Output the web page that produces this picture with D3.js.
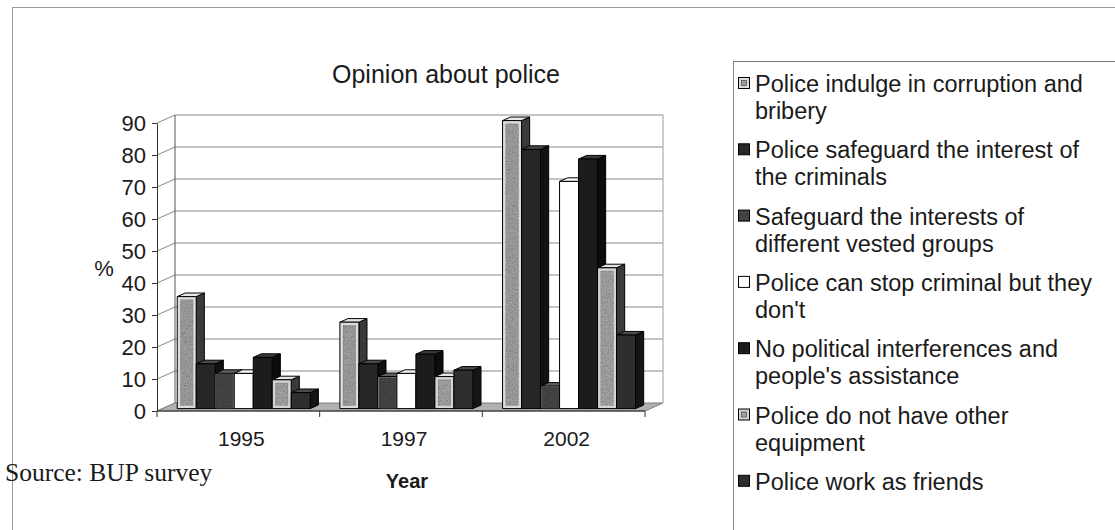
<!DOCTYPE html>
<html>
<head>
<meta charset="utf-8">
<script src="https://cdn.jsdelivr.net/npm/d3@7"></script>
<style>
  body { margin: 0; background: #fff; }
  text { font-family: "Liberation Sans", Arial, sans-serif; fill: #1a1a1a; }
</style>
</head>
<body>
<svg id="chart" width="1115" height="530"></svg>
<script>
// ---- data ----
const years = ["1995", "1997", "2002"];
const seriesLabels = [
  ["Police indulge in corruption and", "bribery"],
  ["Police safeguard the interest of", "the criminals"],
  ["Safeguard the interests of", "different vested groups"],
  ["Police can stop criminal but they", "don't"],
  ["No political interferences and", "people's assistance"],
  ["Police do not have other", "equipment"],
  ["Police work as friends"]
];
const corruption         = [35, 27, 90];
const protectCriminals   = [14, 14, 81];
const vestedGroups       = [11, 10, 7];
const canStopButDont     = [11, 11, 71];
const noInterference     = [16, 17, 78];
const noEquipment        = [9, 10, 44];
const workAsFriends      = [5, 12, 23];
const seriesValues = [corruption, protectCriminals, vestedGroups, canStopButDont,
                      noInterference, noEquipment, workAsFriends];
const yTicks = [0, 10, 20, 30, 40, 50, 60, 70, 80, 90];

// ---- styles per series: front, inner (textured), top, side ----
const styles = [
  { front: "#dcdcdc", inner: "#9c9c9c", top: "#e8e8e8", side: "#3a3a3a" },
  { front: "#262626", inner: null,      top: "#4a4a4a", side: "#121212" },
  { front: "#444444", inner: "#444444", top: "#606060", side: "#1c1c1c" },
  { front: "#ffffff", inner: null,      top: "#f6f6f6", side: "#ececec" },
  { front: "#1c1c1c", inner: null,      top: "#3a3a3a", side: "#0c0c0c" },
  { front: "#d4d4d4", inner: "#a0a0a0", top: "#e4e4e4", side: "#3a3a3a" },
  { front: "#2e2e2e", inner: null,      top: "#4c4c4c", side: "#151515" }
];

const svg = d3.select("#chart");
const defs = svg.append("defs");
const grain = defs.append("filter").attr("id", "grain")
  .attr("x", 0).attr("y", 0).attr("width", 1).attr("height", 1);
grain.append("feTurbulence").attr("type", "fractalNoise")
  .attr("baseFrequency", 0.75).attr("numOctaves", 2).attr("seed", 4).attr("result", "n");
grain.append("feColorMatrix").attr("in", "n").attr("type", "saturate").attr("values", 0).attr("result", "g");
const ct = grain.append("feComponentTransfer").attr("in", "g").attr("result", "c");
["feFuncR", "feFuncG", "feFuncB"].forEach(f =>
  ct.append(f).attr("type", "linear").attr("slope", 1.8).attr("intercept", 0.05));
ct.append("feFuncA").attr("type", "linear").attr("slope", 0).attr("intercept", 1);
grain.append("feBlend").attr("in", "SourceGraphic").attr("in2", "c").attr("mode", "multiply").attr("result", "b");
grain.append("feComposite").attr("in", "b").attr("in2", "SourceGraphic").attr("operator", "in");

// ---- 3D frame geometry ----
const floorY = 411;            // front edge of the floor
const depth = { dx: 18, dy: -8 };
const x = d3.scaleBand().domain(years).range([157, 645]).paddingInner(0).paddingOuter(0);
const xs = d3.scaleBand().domain(d3.range(seriesValues.length))
  .range([0, x.bandwidth()]).paddingInner(0).paddingOuter(0.78);
const H = d3.scaleLinear().domain([0, 90]).range([0, 288]);
const yFront = d3.scaleLinear().domain([0, 90]).range([floorY, floorY - H(90)]);

// project a point at front-plane x, value v, depth fraction f (0 front, 1 back)
const P = (xf, v, f) => [xf + f * depth.dx, floorY + f * depth.dy - H(v)];

// outer frame
svg.append("line").attr("x1", 12).attr("x2", 1115).attr("y1", 7.5).attr("y2", 7.5)
  .attr("stroke", "#9a9a9a");
svg.append("line").attr("x1", 12.5).attr("x2", 12.5).attr("y1", 7).attr("y2", 530)
  .attr("stroke", "#9a9a9a");

// title
svg.append("text").attr("x", 446).attr("y", 83).attr("text-anchor", "middle")
  .style("font-size", "25px").text("Opinion about police");

const [xMin, xMax] = x.range();

// floor
const floorPts = [P(xMin, 0, 0), P(xMax, 0, 0), P(xMax, 0, 1), P(xMin, 0, 1)];
svg.append("polygon").attr("points", floorPts.map(p => p.join(",")).join(" "))
  .attr("fill", "#b0b0b0").attr("stroke", "#808080");

// back wall gridlines and edges
const walls = svg.append("g").attr("stroke", "#8a8a8a").attr("fill", "none");
yTicks.filter(v => v > 0).forEach(v => {
  const a = P(xMin, v, 1), b = P(xMax, v, 1);
  walls.append("line").attr("x1", a[0]).attr("y1", a[1]).attr("x2", b[0]).attr("y2", b[1]);
});
// side wall diagonals
yTicks.forEach(v => {
  const a = P(xMin, v, 0), b = P(xMin, v, 1);
  walls.append("line").attr("x1", a[0]).attr("y1", a[1]).attr("x2", b[0]).attr("y2", b[1]);
});
[xMin, xMax].forEach(xe => {
  const a = P(xe, 0, 1), b = P(xe, 90, 1);
  walls.append("line").attr("x1", a[0]).attr("y1", a[1]).attr("x2", b[0]).attr("y2", b[1])
    .attr("stroke", xe === xMin ? "#555" : "#9a9a9a");
});

// front axis
const yAxis = d3.axisLeft(yFront).tickValues(yTicks).tickSize(5).tickSizeOuter(0).tickPadding(6);
const gy = svg.append("g").attr("transform", `translate(${xMin},0)`).call(yAxis);
gy.selectAll("path, line").attr("stroke", "#333");
gy.selectAll("text").style("font-size", "22px").style("font-family", "'Liberation Sans', Arial, sans-serif")
  .attr("fill", "#333");

svg.append("text").attr("x", 104).attr("y", 276).attr("text-anchor", "middle")
  .style("font-size", "22px").attr("fill", "#333").text("%");

// bars
const barDepth = { f0: 0.3, f1: 0.75 };
const gBars = svg.append("g");
years.forEach((yr, ci) => {
  seriesValues.forEach((vals, si) => {
    const v = vals[ci];
    const st = styles[si];
    const w = xs.bandwidth();
    const xf = x(yr) + xs(si);
    const fl = P(xf, 0, barDepth.f0), ft = P(xf, v, barDepth.f0);
    const bl = P(xf, 0, barDepth.f1), bt = P(xf, v, barDepth.f1);
    const g = gBars.append("g").attr("stroke", "#000").attr("stroke-width", 1)
      .attr("stroke-linejoin", "round");
    // side face
    g.append("polygon").attr("fill", st.side).attr("points", [
      [ft[0] + w, ft[1]], [bt[0] + w, bt[1]], [bl[0] + w, bl[1]], [fl[0] + w, fl[1]]
    ].map(p => p.join(",")).join(" "));
    // top face
    g.append("polygon").attr("fill", st.top).attr("points", [
      [ft[0], ft[1]], [ft[0] + w, ft[1]], [bt[0] + w, bt[1]], [bt[0], bt[1]]
    ].map(p => p.join(",")).join(" "));
    // front face
    g.append("rect").attr("x", ft[0]).attr("y", ft[1]).attr("width", w)
      .attr("height", fl[1] - ft[1]).attr("fill", st.front);
    if (st.inner) {
      const inset = si === 2 ? 0.5 : 3;
      const ih = fl[1] - ft[1] - 2 * inset;
      if (ih > 0) {
        g.append("rect").attr("x", ft[0] + inset).attr("y", ft[1] + inset)
          .attr("width", w - 2 * inset).attr("height", ih)
          .attr("fill", st.inner).attr("stroke", si === 2 ? "none" : "#666")
          .attr("stroke-width", 0.6).attr("filter", "url(#grain)");
      }
    }
  });
});

// front floor edge and category ticks
svg.append("line").attr("x1", xMin).attr("x2", xMax).attr("y1", floorY).attr("y2", floorY)
  .attr("stroke", "#222");
const bounds = years.map(y => x(y)).concat([xMax]);
svg.append("g").selectAll("line").data(bounds).join("line")
  .attr("x1", d => d).attr("x2", d => d).attr("y1", floorY).attr("y2", floorY + 6)
  .attr("stroke", "#333");

// category labels
svg.append("g").selectAll("text").data(years).join("text")
  .attr("x", d => x(d) + x.bandwidth() / 2 + 3).attr("y", 446)
  .attr("text-anchor", "middle").style("font-size", "21px").attr("fill", "#333")
  .text(d => d);

svg.append("text").attr("x", 407).attr("y", 488).attr("text-anchor", "middle")
  .style("font-size", "20px").style("font-weight", "bold").text("Year");

svg.append("text").attr("x", 5).attr("y", 481)
  .style("font-family", "'Liberation Serif', 'Times New Roman', serif")
  .style("font-size", "25.5px").text("Source: BUP survey");

// legend
svg.append("line").attr("x1", 733).attr("x2", 1115).attr("y1", 61.5).attr("y2", 61.5)
  .attr("stroke", "#777");
svg.append("line").attr("x1", 733.5).attr("x2", 733.5).attr("y1", 61).attr("y2", 530)
  .attr("stroke", "#888");

const lg = svg.append("g");
seriesLabels.forEach((lines, i) => {
  const base = 92 + i * 66.3;
  const st = styles[i];
  lg.append("rect").attr("x", 738.5).attr("y", base - 14.5).attr("width", 11).attr("height", 11)
    .attr("fill", st.front).attr("stroke", "#000");
  if (st.inner && i !== 2) {
    lg.append("rect").attr("x", 741.5).attr("y", base - 11.5).attr("width", 5).attr("height", 5)
      .attr("fill", st.inner).attr("stroke", "#333").attr("stroke-width", 0.6);
  }
  lines.forEach((t, li) => {
    lg.append("text").attr("x", 755).attr("y", base + li * 27)
      .style("font-size", "23.5px").attr("fill", "#2a2a2a").text(t);
  });
});
</script>
</body>
</html>
